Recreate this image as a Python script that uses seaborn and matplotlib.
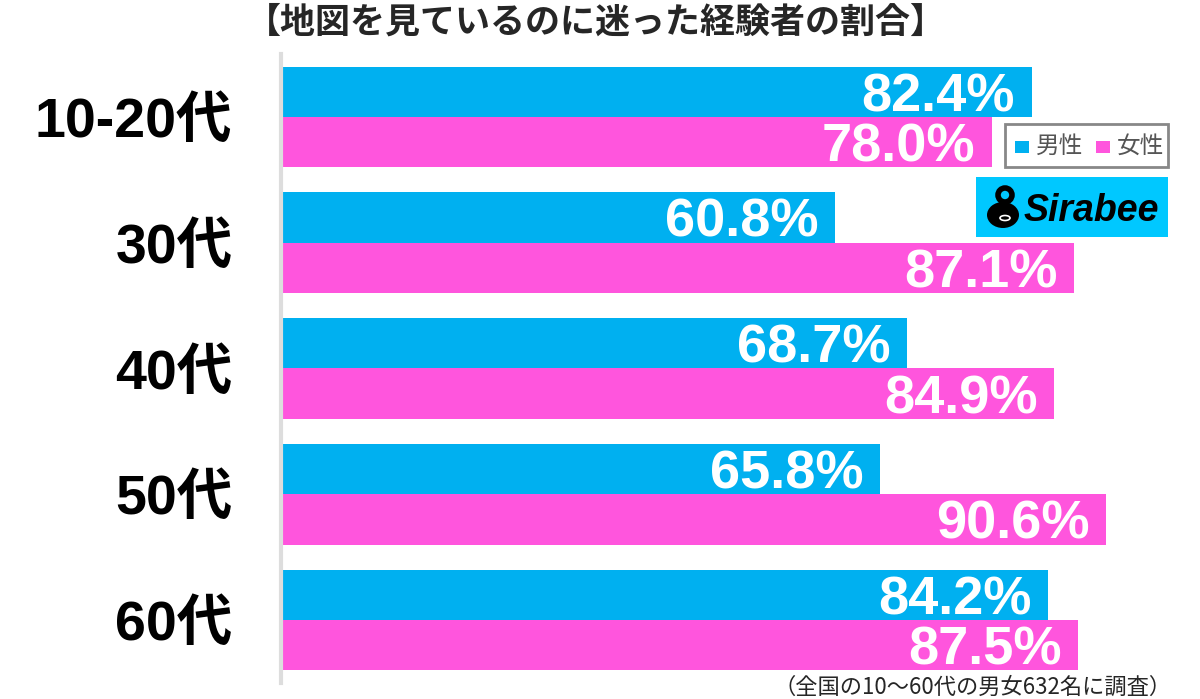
import matplotlib
matplotlib.use("Agg")
import matplotlib.pyplot as plt
import seaborn as sns
import pandas as pd
from matplotlib.patches import Rectangle, Ellipse

categories = ["10-20代", "30代", "40代", "50代", "60代"]
male = [82.4, 60.8, 68.7, 65.8, 84.2]
female = [78.0, 87.1, 84.9, 90.6, 87.5]
series = ["男性", "女性"]
colors = ["#00B0F0", "#FF55DD"]

title = "【地図を見ているのに迷った経験者の割合】"
footnote = "（全国の10〜60代の男女632名に調査）"

df = pd.DataFrame({
    "cat": categories * 2,
    "val": male + female,
    "sex": [series[0]] * len(categories) + [series[1]] * len(categories),
})

sns.set_theme(style="white")
plt.rcParams['font.family'] = ['Liberation Sans', 'Noto Sans CJK JP', 'DejaVu Sans']

W, H = 1200, 699
fig = plt.figure(figsize=(12, 6.99), dpi=100)
ax = fig.add_axes([281/W, 1 - 683/H, (1192-281)/W, (683-54)/H])

sns.barplot(data=df, y="cat", x="val", hue="sex", order=categories,
            hue_order=series, palette=colors, orient="h", width=0.8,
            saturation=1, ax=ax, legend=False, edgecolor="none", linewidth=0)

ax.set_xlim(0, 100)
ax.set_ylim(4.5, -0.5)
ax.set_xlabel("")
ax.set_ylabel("")
ax.set_xticks([])
for s in ["top", "right", "bottom"]:
    ax.spines[s].set_visible(False)
ax.spines["left"].set_color("#dddddd")
ax.spines["left"].set_linewidth(3)

ax.tick_params(axis="y", length=0, pad=35)
for lab in ax.get_yticklabels():
    lab.set_fontsize(40)
    lab.set_fontweight("bold")
    lab.set_color("black")
    lab.set_family(['Liberation Sans', 'Noto Sans CJK JP'])

fs = 39
cap = 0.716 * fs
for cont in ax.containers:
    for b in cont:
        w = b.get_width()
        yc = b.get_y() + b.get_height() / 2
        ax.annotate(f"{w:.1f}%", xy=(w, yc), xytext=(-12, -cap / 2),
                    textcoords="offset points", ha="right", va="baseline",
                    color="white", fontsize=fs, fontweight="bold",
                    family=['Liberation Sans'])

fig.text(596/W, 1 - 22/H, title, ha="center", va="center", fontsize=25.2,
         fontweight="bold", family=['Noto Sans CJK JP'])
fig.text(1172/W, 1 - 687/H, footnote, ha="right", va="center",
         fontsize=16, family=['Noto Sans CJK JP'])

# legend box
lx0, ly0, lx1, ly1 = 1005, 124, 1168, 167
fig.patches.append(Rectangle((lx0/W, 1 - ly1/H), (lx1-lx0)/W, (ly1-ly0)/H,
                             transform=fig.transFigure, facecolor="white",
                             edgecolor="#888888", linewidth=2))
for sx, name, c in zip([1015, 1096], series, colors):
    fig.patches.append(Rectangle((sx/W, 1 - 153/H), 14/W, 12/H,
                                 transform=fig.transFigure, facecolor=c, edgecolor="none"))
    fig.text((sx + 21)/W, 1 - 146/H, name, ha="left", va="center",
             fontsize=17, color="#555555", family=['Noto Sans CJK JP'])

# logo
fig.patches.append(Rectangle((976/W, 1 - 237/H), 192/W, 60/H,
                             transform=fig.transFigure, facecolor="#00C8FF", edgecolor="none"))
fig.patches.append(Ellipse((1003/W, 1 - 215/H), 32/W, 26/H, transform=fig.transFigure,
                           facecolor="black", edgecolor="none"))
fig.patches.append(Ellipse((1005/W, 1 - 195/H), 14/W, 14/H, transform=fig.transFigure,
                           facecolor="none", edgecolor="black", linewidth=4))
fig.patches.append(Ellipse((1005/W, 1 - 218/H), 10/W, 5/H, transform=fig.transFigure,
                           facecolor="none", edgecolor="white", linewidth=1.2))
fig.text(1024/W, 1 - 211/H, "Sirabee", ha="left", va="center", fontsize=27,
         fontweight="bold", style="italic", color="black", family=['Liberation Sans'])

fig.savefig("out.png", dpi=100, facecolor="white")
